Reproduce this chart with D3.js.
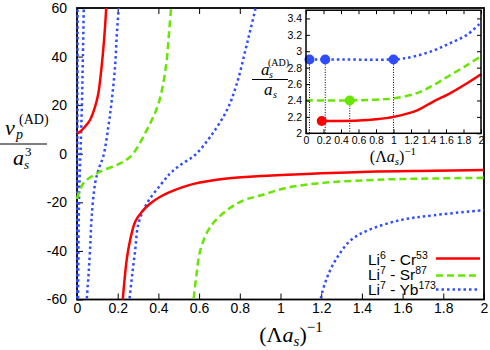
<!DOCTYPE html>
<html>
  <head>
    <meta charset="utf-8" />
    <title>Atom-dimer p-wave</title>
    <script src="https://d3js.org/d3.v7.min.js"></script>
    <style>
      body { margin: 0; background: #fff; }
      svg text { font-family: "Liberation Sans", Arial, sans-serif; fill: #000; }
      .tex { font-family: "Liberation Serif", "Times New Roman", serif; }
    </style>
  </head>
  <body>
    <svg width="490" height="350"></svg>
    <script>
      // main plot data, [x, v] (one array per branch)
      var redBranch1 = [[0, 8.4], [0.015, 9.1], [0.039, 11.1], [0.064, 13.9], [0.089, 19.4], [0.105, 24.9], [0.121, 35.9], [0.133, 46.9], [0.143, 59.3], [0.145, 64]];
      var redBranch2 = [[0.222, -64], [0.225, -60], [0.232, -53.4], [0.244, -43.8], [0.261, -35.6], [0.286, -28], [0.319, -23.9], [0.36, -20.5], [0.409, -17.7], [0.458, -15.7],
        [0.573, -12.4], [0.737, -10.2], [0.9, -9.2], [1.1, -8.4], [1.43, -7.4], [1.75, -7.0], [2.0, -6.7]];
      var greenBranch1 = [[0, -18.6], [0.031, -12.2], [0.113, -7.4], [0.212, -4], [0.27, -0.5], [0.343, 9.8], [0.4, 20.5], [0.437, 35.9],
        [0.452, 49.6], [0.462, 60], [0.465, 64]];
      var greenBranch2 = [[0.57, -64], [0.573, -60], [0.586, -50.7], [0.606, -39.7], [0.655, -30.1], [0.737, -23.2], [0.82, -19.1], [0.9, -17.2],
        [1.017, -14.3], [1.18, -12.2], [1.51, -10.6], [1.75, -10.2], [2.0, -9.9]];
      var blueBranch1 = [[0.001, -64], [0.0015, -30], [0.002, 0], [0.0025, 30], [0.003, 64]];
      var blueBranch2 = [[0.005, -64], [0.007, -40], [0.011, -15], [0.017, 0], [0.024, 20], [0.029, 40], [0.034, 64]];
      var blueBranch3 = [[0.046, -64], [0.048, -60], [0.056, -50.7], [0.064, -39.7], [0.072, -26], [0.089, -12.2], [0.105, -6.7], [0.13, -0.8],
        [0.154, 11.1], [0.171, 22.1], [0.187, 35.9], [0.196, 49.6], [0.205, 60], [0.207, 64]];
      var blueBranch4 = [[0.255, -64], [0.258, -60], [0.27, -50.7], [0.286, -39.7], [0.302, -28.7], [0.343, -20.5], [0.409, -13], [0.458, -8.1],
        [0.507, -4.7], [0.58, -0.5], [0.655, 7], [0.737, 18], [0.786, 29], [0.828, 42.8], [0.852, 51], [0.877, 60], [0.882, 64]];
      var blueBranch5 = [[1.195, -64], [1.197, -60], [1.23, -50.7], [1.28, -42.5], [1.345, -35.6], [1.43, -31.5], [1.59, -27.3], [1.755, -25.3], [2.0, -23.2]];

      // inset data, a_s^(AD)/a_s
      var insetRed = [[0.18, 2.15], [0.4, 2.15], [0.6, 2.155], [0.8, 2.17], [1.0, 2.2], [1.27, 2.28], [1.46, 2.39], [1.65, 2.49], [1.84, 2.61], [2.0, 2.72]];
      var insetGreen = [[0, 2.4], [0.5, 2.4], [0.8, 2.41], [1.0, 2.425], [1.27, 2.49], [1.46, 2.59], [1.65, 2.71], [1.84, 2.83], [2.0, 2.94]];
      var insetBlue = [[0.04, 2.9], [0.22, 2.9], [1.0, 2.9], [1.1, 2.91], [1.25, 2.94], [1.46, 3.01], [1.65, 3.1], [1.84, 3.2], [2.0, 3.35]];
      var redMarks = [[0.18, 2.15]];
      var greenMarks = [[0.5, 2.4]];
      var blueMarks = [[0.04, 2.9], [0.22, 2.9], [1.0, 2.9]];

      // ticks
      var mainXTicks = [0, 0.2, 0.4, 0.6, 0.8, 1, 1.2, 1.4, 1.6, 1.8, 2];
      var mainYTicks = [-60, -40, -20, 0, 20, 40, 60];
      var insetXTicks = [0, 0.2, 0.4, 0.6, 0.8, 1, 1.2, 1.4, 1.6, 1.8, 2];
      var insetYTicks = [2, 2.2, 2.4, 2.6, 2.8, 3, 3.2, 3.4];

      var RED = "#ff0000", GREEN = "#66e600", BLUE = "#2f4dff";
      var styles = {
        red: { color: RED, dash: null },
        green: { color: GREEN, dash: "7,4" },
        blue: { color: BLUE, dash: "2.5,3" }
      };

      var svg = d3.select("svg");

      var x = d3.scaleLinear().domain([0, 2]).range([77, 484]);
      var y = d3.scaleLinear().domain([-60, 60]).range([299.5, 8]);

      // frame and axes first, curves go on top like in the original
      svg.append("rect")
        .attr("x", 77).attr("y", 8).attr("width", 407).attr("height", 291.5)
        .attr("fill", "none").attr("stroke", "#000").attr("stroke-width", 1.8);

      svg.append("g")
        .attr("transform", "translate(0,299.5)")
        .call(d3.axisBottom(x).tickValues(mainXTicks).tickSizeInner(-6).tickSizeOuter(0).tickPadding(4).tickFormat(String))
        .call(function (g) { g.select(".domain").remove(); g.selectAll("text").style("font-size", "14px"); });
      svg.append("g")
        .attr("transform", "translate(0,8)")
        .call(d3.axisTop(x).tickValues(mainXTicks.slice(1, 5)).tickSizeInner(-6).tickSizeOuter(0).tickFormat(""))
        .call(function (g) { g.select(".domain").remove(); });
      svg.append("g")
        .attr("transform", "translate(77,0)")
        .call(d3.axisLeft(y).tickValues(mainYTicks).tickSizeInner(-6).tickSizeOuter(0).tickPadding(10).tickFormat(String))
        .call(function (g) { g.select(".domain").remove(); g.selectAll("text").style("font-size", "14px"); });

      svg.append("clipPath").attr("id", "mainclip")
        .append("rect").attr("x", 75).attr("y", 8).attr("width", 409).attr("height", 291.5);

      var line = d3.line()
        .x(function (d) { return x(d[0]); })
        .y(function (d) { return y(d[1]); })
        .curve(d3.curveCatmullRom.alpha(0.5));

      var curves = svg.append("g").attr("clip-path", "url(#mainclip)");
      function drawCurve(g, data, st, ln) {
        g.append("path")
          .attr("d", ln(data))
          .attr("fill", "none")
          .attr("stroke", st.color)
          .attr("stroke-width", 2.5)
          .attr("stroke-dasharray", st.dash);
      }
      [blueBranch1, blueBranch2, blueBranch3, blueBranch4, blueBranch5].forEach(function (b) { drawCurve(curves, b, styles.blue, line); });
      [greenBranch1, greenBranch2].forEach(function (b) { drawCurve(curves, b, styles.green, line); });
      [redBranch1, redBranch2].forEach(function (b) { drawCurve(curves, b, styles.red, line); });

      // axis titles
      var xt = svg.append("text").attr("class", "tex").attr("x", 291).attr("y", 342)
        .attr("text-anchor", "middle").style("font-size", "22px");
      xt.append("tspan").text("(\u039B");
      xt.append("tspan").style("font-style", "italic").text("a");
      xt.append("tspan").style("font-style", "italic").style("font-size", "15px").attr("dy", 4).text("s");
      xt.append("tspan").attr("dy", -4).text(")");
      xt.append("tspan").style("font-size", "15px").attr("dy", -10).text("\u22121");

      var yt = svg.append("g");
      yt.append("text").attr("class", "tex").attr("x", 5).attr("y", 135).style("font-size", "22px").style("font-style", "italic").text("v");
      yt.append("text").attr("class", "tex").attr("x", 16).attr("y", 139).style("font-size", "14px").style("font-style", "italic").text("p");
      yt.append("text").attr("class", "tex").attr("x", 19).attr("y", 124).style("font-size", "14px").text("(AD)");
      yt.append("line").attr("x1", 0).attr("x2", 47).attr("y1", 144).attr("y2", 144).attr("stroke", "#000").attr("stroke-width", 1.2);
      yt.append("text").attr("class", "tex").attr("x", 13).attr("y", 165).style("font-size", "22px").style("font-style", "italic").text("a");
      yt.append("text").attr("class", "tex").attr("x", 24).attr("y", 169).style("font-size", "13px").style("font-style", "italic").text("s");
      yt.append("text").attr("class", "tex").attr("x", 25).attr("y", 156).style("font-size", "13px").text("3");

      // legend
      var legendItems = [
        { a: "Li", sa: "6", b: " - Cr", sb: "53", st: styles.red, ty: 265, ly: 258.5 },
        { a: "Li", sa: "7", b: " - Sr", sb: "87", st: styles.green, ty: 280, ly: 275.5 },
        { a: "Li", sa: "7", b: " - Yb", sb: "173", st: styles.blue, ty: 295, ly: 289.5 }
      ];
      var lg = svg.append("g");
      legendItems.forEach(function (d) {
        var t = lg.append("text").attr("x", 368).attr("y", d.ty).style("font-size", "15.5px");
        t.append("tspan").text(d.a);
        t.append("tspan").attr("dy", -6).style("font-size", "10.5px").text(d.sa);
        t.append("tspan").attr("dy", 6).text(d.b);
        t.append("tspan").attr("dy", -6).style("font-size", "10.5px").text(d.sb);
        lg.append("line").attr("x1", 436).attr("x2", 480).attr("y1", d.ly).attr("y2", d.ly)
          .attr("stroke", d.st.color).attr("stroke-width", 2.5).attr("stroke-dasharray", d.st.dash);
      });

      // ---- inset ----
      svg.append("rect").attr("x", 257).attr("y", 9).attr("width", 226).attr("height", 157).attr("fill", "#fff");

      var ix = d3.scaleLinear().domain([0, 2]).range([306, 481]);
      var iy = d3.scaleLinear().domain([2, 3.5]).range([133.3, 10.2]);
      var iline = d3.line()
        .x(function (d) { return ix(d[0]); })
        .y(function (d) { return iy(d[1]); })
        .curve(d3.curveCatmullRom.alpha(0.5));

      // dotted drop lines
      svg.append("g").selectAll("line")
        .data(blueMarks.concat(greenMarks))
        .enter().append("line")
        .attr("x1", function (d) { return ix(d[0]); })
        .attr("x2", function (d) { return ix(d[0]); })
        .attr("y1", function (d) { return iy(d[1]); })
        .attr("y2", iy(2))
        .attr("stroke", "#000").attr("stroke-width", 1).attr("stroke-dasharray", "1,1.5");

      var ig = svg.append("g");
      drawCurve(ig, insetBlue, styles.blue, iline);
      drawCurve(ig, insetGreen, styles.green, iline);
      drawCurve(ig, insetRed, styles.red, iline);

      [[blueMarks, BLUE], [greenMarks, GREEN], [redMarks, RED]].forEach(function (m) {
        ig.selectAll(null).data(m[0]).enter().append("circle")
          .attr("cx", function (d) { return ix(d[0]); })
          .attr("cy", function (d) { return iy(d[1]); })
          .attr("r", 5)
          .attr("fill", m[1]);
      });

      svg.append("g")
        .attr("transform", "translate(0,133.3)")
        .call(d3.axisBottom(ix).tickValues(insetXTicks).tickSizeInner(-4).tickSizeOuter(0).tickPadding(3).tickFormat(String))
        .call(function (g) { g.select(".domain").remove(); g.selectAll("text").style("font-size", "10.5px"); });
      svg.append("g")
        .attr("transform", "translate(0,10.2)")
        .call(d3.axisTop(ix).tickValues(insetXTicks).tickSizeInner(-4).tickSizeOuter(0).tickFormat(""))
        .call(function (g) { g.select(".domain").remove(); });
      svg.append("g")
        .attr("transform", "translate(306,0)")
        .call(d3.axisLeft(iy).tickValues(insetYTicks).tickSizeInner(-4).tickSizeOuter(0).tickPadding(4).tickFormat(String))
        .call(function (g) { g.select(".domain").remove(); g.selectAll("text").style("font-size", "10.5px"); });
      svg.append("g")
        .attr("transform", "translate(481,0)")
        .call(d3.axisRight(iy).tickValues(insetYTicks).tickSizeInner(-4).tickSizeOuter(0).tickFormat(""))
        .call(function (g) { g.select(".domain").remove(); });

      svg.append("rect").attr("x", 306).attr("y", 10.2).attr("width", 175).attr("height", 123.1)
        .attr("fill", "none").attr("stroke", "#000").attr("stroke-width", 1.5);

      // inset titles
      var it = svg.append("text").attr("class", "tex").attr("x", 393).attr("y", 162)
        .attr("text-anchor", "middle").style("font-size", "16px");
      it.append("tspan").text("(\u039B");
      it.append("tspan").style("font-style", "italic").text("a");
      it.append("tspan").style("font-style", "italic").style("font-size", "11px").attr("dy", 3).text("s");
      it.append("tspan").attr("dy", -3).text(")");
      it.append("tspan").style("font-size", "11px").attr("dy", -7).text("\u22121");

      var iyt = svg.append("g");
      iyt.append("text").attr("class", "tex").attr("x", 261).attr("y", 75).style("font-size", "17px").style("font-style", "italic").text("a");
      iyt.append("text").attr("class", "tex").attr("x", 269).attr("y", 78).style("font-size", "10px").style("font-style", "italic").text("s");
      iyt.append("text").attr("class", "tex").attr("x", 268).attr("y", 66).style("font-size", "10px").text("(AD)");
      iyt.append("line").attr("x1", 252).attr("x2", 288).attr("y1", 79.5).attr("y2", 79.5).attr("stroke", "#000").attr("stroke-width", 1.2);
      iyt.append("text").attr("class", "tex").attr("x", 264).attr("y", 95).style("font-size", "17px").style("font-style", "italic").text("a");
      iyt.append("text").attr("class", "tex").attr("x", 273).attr("y", 98).style("font-size", "10px").style("font-style", "italic").text("s");
    </script>
  </body>
</html>
